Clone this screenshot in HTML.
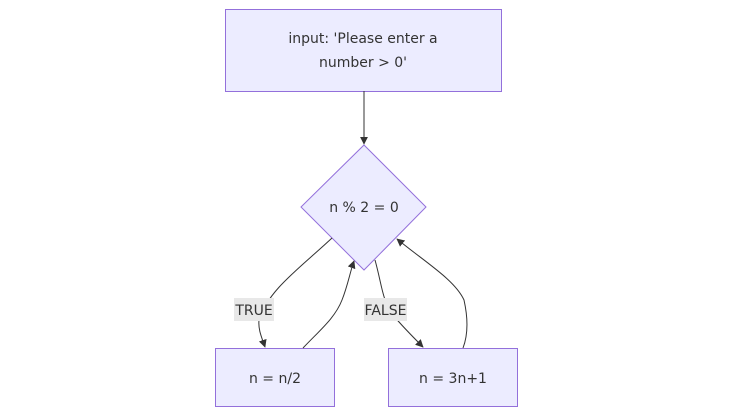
<!DOCTYPE html>
<html><head><style>
body{margin:0;background:#fff;width:732px;height:415px;overflow:hidden}
svg text{font-family:"DejaVu Sans","Liberation Sans",sans-serif;font-size:14px;fill:#333}
</style></head><body>
<svg width="732" height="415" viewBox="0 0 732 415">
<defs><marker id="a" viewBox="0 0 10 10" refX="9" refY="5" markerWidth="8" markerHeight="8" orient="auto"><path d="M0,0L10,5L0,10z" fill="#333"/></marker></defs>
<g fill="#ECECFF" stroke="#9370DB" stroke-width="1">
<rect x="225.5" y="9.5" width="276" height="82"/>
<polygon points="364,145 426,207 364,270 301,207"/>
<rect x="215.5" y="348.5" width="119" height="58"/>
<rect x="388.5" y="348.5" width="129" height="58"/>
</g>
<g fill="none" stroke="#333" stroke-width="1" marker-end="url(#a)">
<path d="M364,91L364,144"/>
<path d="M332,238C300,268 268,290 259,320C258,330 262,338 265,347"/>
<path d="M303,348C320,330 335,318 342,300C348,285 350,272 354,261"/>
<path d="M375,260C382,285 382,300 393,315C402,326 413,337 423,347"/>
<path d="M463,348C468,335 468,318 464,300C455,280 425,262 397,239"/>
</g>
<rect x="234" y="298" width="40" height="23" fill="#e8e8e8"/>
<rect x="364" y="298" width="43" height="23" fill="#e8e8e8"/>
<text x="254" y="315" text-anchor="middle">TRUE</text>
<text x="385.5" y="315" text-anchor="middle">FALSE</text>
<text x="363" y="43" text-anchor="middle">input: 'Please enter a</text>
<text x="363" y="67" text-anchor="middle">number &gt; 0'</text>
<text x="364" y="212" text-anchor="middle">n % 2 = 0</text>
<text x="275" y="383" text-anchor="middle">n = n/2</text>
<text x="453" y="383" text-anchor="middle">n = 3n+1</text>
</svg>
</body></html>
